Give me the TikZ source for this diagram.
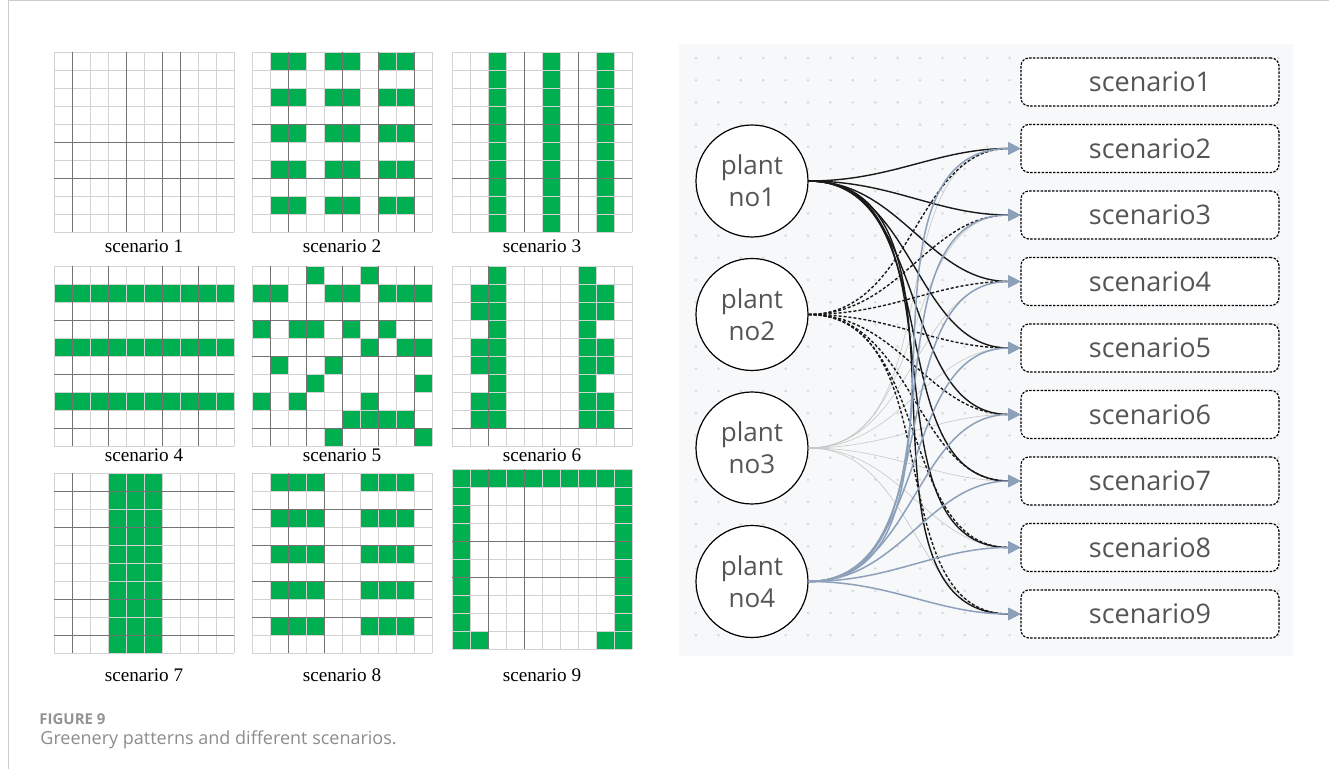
\documentclass[tikz,border=0pt]{standalone}
\usepackage{fontspec}
\setmainfont{Liberation Serif}
\newfontfamily\graphfont{Open Sans}
\usepackage{xcolor}
\usepackage{tikz}
\usetikzlibrary{calc}
\usetikzlibrary{arrows.meta, positioning}

\definecolor{leafgreen}{RGB}{0,176,80}
\definecolor{panelgray}{RGB}{247,248,249}
\definecolor{labelgray}{RGB}{85,85,85}
\definecolor{linkblue}{RGB}{140,160,186}

% one 10x10 layout: dark columns, dark rows, green blocks c/r/w/h
\newcommand{\layoutgrid}[3]{%
  \foreach \c/\r/\w/\h in {#3} {\fill[leafgreen] (\c,\r) rectangle ++(\w,\h);}
  \foreach \i in {0,...,10} {
    \draw[cell line] (\i,0) -- (\i,10);
    \draw[cell line] (0,\i) -- (10,\i);
  }
  \foreach \i in {#1} {\draw[dark line] (\i,0) -- (\i,10);}
  \foreach \i in {#2} {\draw[dark line] (0,\i) -- (10,\i);}
}

\begin{document}
\begin{tikzpicture}[x=0.5pt,y=-0.5pt,-,auto,node distance=66.75pt,
                    cell line/.style={gray!35,line width=0.3pt},
                    dark line/.style={black!55,line width=0.45pt},
                    grid label/.style={font=\fontsize{9.6}{11}\selectfont},
                    plant node/.style={circle,draw,fill=white,line width=0.6pt,minimum size=56pt,
                                       align=center,text=labelgray,
                                       font=\graphfont\fontsize{13}{16}\selectfont},
                    scen node/.style={rectangle,rounded corners=4pt,draw,dashed,
                                      dash pattern=on 1.2pt off 0.7pt,line width=0.6pt,fill=white,
                                      minimum width=129pt,minimum height=24pt,text=labelgray,
                                      font=\graphfont\fontsize{13.5}{16}\selectfont},
                    tip/.style={-{Triangle[length=6pt,width=6pt,color=linkblue]}},
                    solid link/.style={draw,black!90,line width=0.7pt,out=0,in=180,tip},
                    dashed link/.style={draw,black!90,line width=0.7pt,dash pattern=on 1.5pt off 1pt,
                                        out=0,in=180,tip},
                    faint link/.style={draw,gray!45,line width=0.3pt,out=0,in=180,tip},
                    blue link/.style={draw,linkblue,line width=0.75pt,out=0,in=180,tip}]

  \useasboundingbox (0,0) rectangle (1329,769);
  \draw[gray!40,line width=0.5pt] (8,769) -- (8,1) -- (1329,1);

  % greenery layouts
  \begin{scope}[shift={(54,52)},scale=18]
    \layoutgrid{1,4,6,7}{5,7}{0/0/0/0}
  \end{scope}
  \begin{scope}[shift={(252,52)},scale=18]
    \layoutgrid{2,5,7,9}{4,7}{1/0/2/1,4/0/2/1,7/0/2/1,1/2/2/1,4/2/2/1,7/2/2/1,
      1/4/2/1,4/4/2/1,7/4/2/1,1/6/2/1,4/6/2/1,7/6/2/1,1/8/2/1,4/8/2/1,7/8/2/1}
  \end{scope}
  \begin{scope}[shift={(452,52)},scale=18]
    \layoutgrid{4,7}{4,7}{2/0/1/10,5/0/1/10,8/0/1/10}
  \end{scope}
  \begin{scope}[shift={(54,266)},scale=18]
    \layoutgrid{1,3,6,8}{3,6,9}{0/1/10/1,0/4/10/1,0/7/10/1}
  \end{scope}
  \begin{scope}[shift={(252,266)},scale=18]
    \layoutgrid{1,3,5,7,9}{3,5,9}{3/0/1/1,6/0/1/1,0/1/2/1,4/1/2/1,7/1/3/1,
      0/3/1/1,2/3/2/1,5/3/1/1,7/3/1/1,6/4/1/1,8/4/2/1,1/5/1/1,4/5/1/1,
      3/6/1/1,9/6/1/1,0/7/1/1,2/7/1/1,6/7/1/1,5/8/4/1,4/9/1/1,9/9/1/1}
  \end{scope}
  \begin{scope}[shift={(452,266)},scale=18]
    \layoutgrid{2}{9}{2/0/1/9,7/0/1/9,1/1/1/2,1/4/1/2,1/7/1/2,8/1/1/2,8/4/1/2,8/7/1/2}
  \end{scope}
  \begin{scope}[shift={(54,473)},scale=18]
    \layoutgrid{1}{1,3,7,9}{3/0/3/10}
  \end{scope}
  \begin{scope}[shift={(252,473)},scale=18]
    \layoutgrid{2,4}{2,4,6,8}{1/0/3/1,6/0/3/1,1/2/3/1,6/2/3/1,1/4/3/1,6/4/3/1,
      1/6/3/1,6/6/3/1,1/8/3/1,6/8/3/1}
  \end{scope}
  \begin{scope}[shift={(452,469)},scale=18]
    \layoutgrid{2,4}{4,6}{0/0/10/1,0/1/1/9,9/1/1/9,1/9/1/1,8/9/1/1}
  \end{scope}

  \node[grid label] (l1) at (144,246) {scenario 1};
  \node[grid label] (l2) at (342,246) {scenario 2};
  \node[grid label] (l3) at (542,246) {scenario 3};
  \node[grid label] (l4) at (144,455) {scenario 4};
  \node[grid label] (l5) at (342,455) {scenario 5};
  \node[grid label] (l6) at (542,455) {scenario 6};
  \node[grid label] (l7) at (144,675) {scenario 7};
  \node[grid label] (l8) at (342,675) {scenario 8};
  \node[grid label] (l9) at (542,675) {scenario 9};

  % dotted canvas behind the graph
  \fill[panelgray] (679,44) rectangle (1293,656);
  \foreach \x in {0,...,26}
    \foreach \y in {0,...,26}
      \fill[gray!30] (696+22.4*\x,58+22.2*\y) circle (0.7pt);

  \node[plant node] (p1) at (752,181) {plant\\no1};
  \node[plant node] (p2) [below of=p1] {plant\\no2};
  \node[plant node] (p3) [below of=p2] {plant\\no3};
  \node[plant node] (p4) [below of=p3] {plant\\no4};

  \node[scen node] (s1) at (1150,82) {scenario1};
  \node[scen node] (s2) [below of=s1,node distance=33.25pt] {scenario2};
  \node[scen node] (s3) [below of=s2,node distance=33.25pt] {scenario3};
  \node[scen node] (s4) [below of=s3,node distance=33.25pt] {scenario4};
  \node[scen node] (s5) [below of=s4,node distance=33.25pt] {scenario5};
  \node[scen node] (s6) [below of=s5,node distance=33.25pt] {scenario6};
  \node[scen node] (s7) [below of=s6,node distance=33.25pt] {scenario7};
  \node[scen node] (s8) [below of=s7,node distance=33.25pt] {scenario8};
  \node[scen node] (s9) [below of=s8,node distance=33.25pt] {scenario9};

  \path[every edge/.style={faint link}]
  (p3) edge (s2)
  (p3) edge (s3)
  (p3) edge (s4)
  (p3) edge (s5)
  (p3) edge (s6)
  (p3) edge (s7)
  (p3) edge (s8)
  (p3) edge (s9);

  \path[every edge/.style={dashed link}]
  (p2) edge (s2)
  (p2) edge (s3)
  (p2) edge (s4)
  (p2) edge (s5)
  (p2) edge (s6)
  (p2) edge (s7)
  (p2) edge (s8)
  (p2) edge (s9);

  \path[every edge/.style={solid link}]
  (p1) edge (s2)
  (p1) edge (s3)
  (p1) edge (s4)
  (p1) edge (s5)
  (p1) edge (s6)
  (p1) edge (s7)
  (p1) edge (s8)
  (p1) edge (s9);

  \path[every edge/.style={blue link}]
  (p4) edge (s2)
  (p4) edge (s3)
  (p4) edge (s4)
  (p4) edge (s5)
  (p4) edge (s6)
  (p4) edge (s7)
  (p4) edge (s8)
  (p4) edge (s9);

  \node[anchor=west,inner sep=0pt,text=gray!85,font=\graphfont\bfseries\fontsize{7.5}{9}\selectfont] (fig) at (39,719) {FIGURE 9};
  \node[anchor=west,inner sep=0pt,text=gray!90,font=\graphfont\fontsize{9}{11}\selectfont] (cap) at (40,740) {Greenery patterns and different scenarios.};
\end{tikzpicture}
\end{document}
